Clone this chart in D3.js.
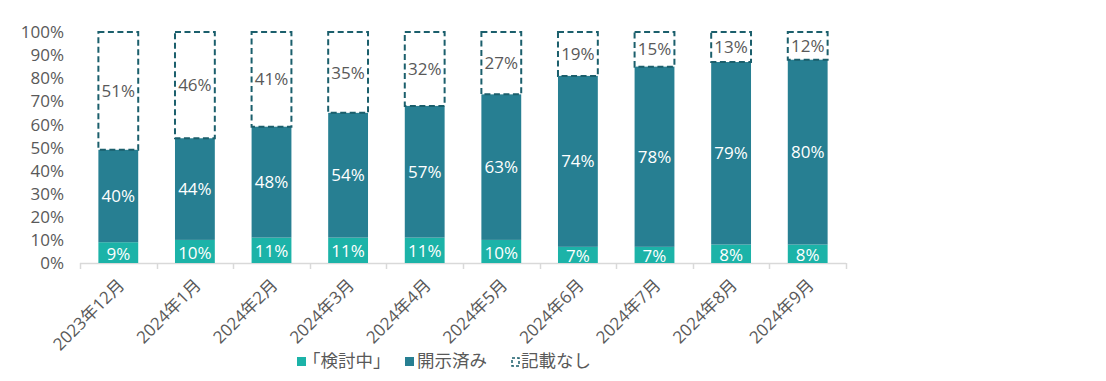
<!DOCTYPE html>
<html><head><meta charset="utf-8">
<script src="https://cdn.jsdelivr.net/npm/d3@7"></script>
<style>
body{margin:0;background:#fff;}
text{font-family:"Open Sans","Noto Sans CJK JP",sans-serif;}
</style></head>
<body><svg id="c" width="1106" height="381"></svg>
<script>
const categories=["2023年12月","2024年1月","2024年2月","2024年3月","2024年4月","2024年5月","2024年6月","2024年7月","2024年8月","2024年9月"];
const kentou=[9,10,11,11,11,10,7,7,8,8];
const kaiji=[40,44,48,54,57,63,74,78,79,80];
const nashi=[51,46,41,35,32,27,19,15,13,12];
const seriesNames=["「検討中」","開示済み","記載なし"];
const yTicks=[0,10,20,30,40,50,60,70,80,90,100];

const svg=d3.select("#c");
const x=d3.scaleBand().domain(categories).range([80,846]).paddingInner(0.48).paddingOuter(0.24);
const xb=d3.scaleBand().domain(categories).range([80,846]);
const y=d3.scaleLinear().domain([0,100]).range([263,32]);
const C1="#1cb3a8",C2="#277f92",C3="#1b5f6c",TXT="#595959";
const FS=17;

// y axis labels
svg.append("g").selectAll("text").data(yTicks).join("text")
 .attr("x",64).attr("y",d=>y(d)).attr("dy","0.36em").attr("text-anchor","end")
 .attr("font-size",FS).attr("fill",TXT).text(d=>d+"%");

// x axis line and ticks
const ax=svg.append("g");
ax.append("line").attr("x1",80).attr("x2",846).attr("y1",263.5).attr("y2",263.5).attr("stroke","#d9d9d9").attr("stroke-width",1.5);
const tickX=categories.map(c=>xb(c)).concat([846]);
ax.selectAll("line.t").data(tickX).join("line").attr("class","t")
 .attr("x1",d=>Math.round(d)+0.5).attr("x2",d=>Math.round(d)+0.5).attr("y1",263).attr("y2",269).attr("stroke","#d9d9d9").attr("stroke-width",1.5);

categories.forEach((c,i)=>{
 const bx=x(c),bw=x.bandwidth(),cx=bx+bw/2;
 const y0=y(0),y1=y(kentou[i]),y2=y(kentou[i]+kaiji[i]),y3=y(kentou[i]+kaiji[i]+nashi[i]);
 svg.append("rect").attr("x",bx).attr("y",y1).attr("width",bw).attr("height",y0-y1).attr("fill",C1);
 svg.append("rect").attr("x",bx).attr("y",y2).attr("width",bw).attr("height",y1-y2).attr("fill",C2);
 svg.append("rect").attr("x",bx).attr("y",y3).attr("width",bw).attr("height",y2-y3).attr("fill","none")
  .attr("stroke",C3).attr("stroke-width",2).attr("stroke-dasharray","6,3.5");
 svg.append("text").attr("x",cx).attr("y",(y0+y1)/2+1).attr("dy","0.36em").attr("text-anchor","middle").attr("font-size",FS).attr("fill","#fff").text(kentou[i]+"%");
 svg.append("text").attr("x",cx).attr("y",(y1+y2)/2).attr("dy","0.36em").attr("text-anchor","middle").attr("font-size",FS).attr("fill","#fff").text(kaiji[i]+"%");
 svg.append("text").attr("x",cx).attr("y",(y2+y3)/2).attr("dy","0.36em").attr("text-anchor","middle").attr("font-size",FS).attr("fill",TXT).text(nashi[i]+"%");
 svg.append("text").attr("transform",`translate(${cx+3},${282}) rotate(-45)`).attr("text-anchor","end").attr("dy","0.35em")
  .attr("font-size",FS).attr("fill",TXT).text(c);
});

// legend
const lg=svg.append("g");
const ly=361;
lg.append("rect").attr("x",297).attr("y",ly-4).attr("width",9).attr("height",9).attr("fill",C1);
lg.append("text").attr("x",303).attr("y",ly).attr("dy","0.36em").attr("font-size",17.5).attr("fill",TXT).text(seriesNames[0]);
lg.append("rect").attr("x",405).attr("y",ly-4).attr("width",9).attr("height",9).attr("fill",C2);
lg.append("text").attr("x",417).attr("y",ly).attr("dy","0.36em").attr("font-size",17.5).attr("fill",TXT).text(seriesNames[1]);
lg.append("rect").attr("x",512).attr("y",ly-3).attr("width",7).attr("height",8).attr("fill","none").attr("stroke",C3).attr("stroke-width",1.5).attr("stroke-dasharray","3,2");
lg.append("text").attr("x",521).attr("y",ly).attr("dy","0.36em").attr("font-size",17.5).attr("fill",TXT).text(seriesNames[2]);
</script></body></html>
